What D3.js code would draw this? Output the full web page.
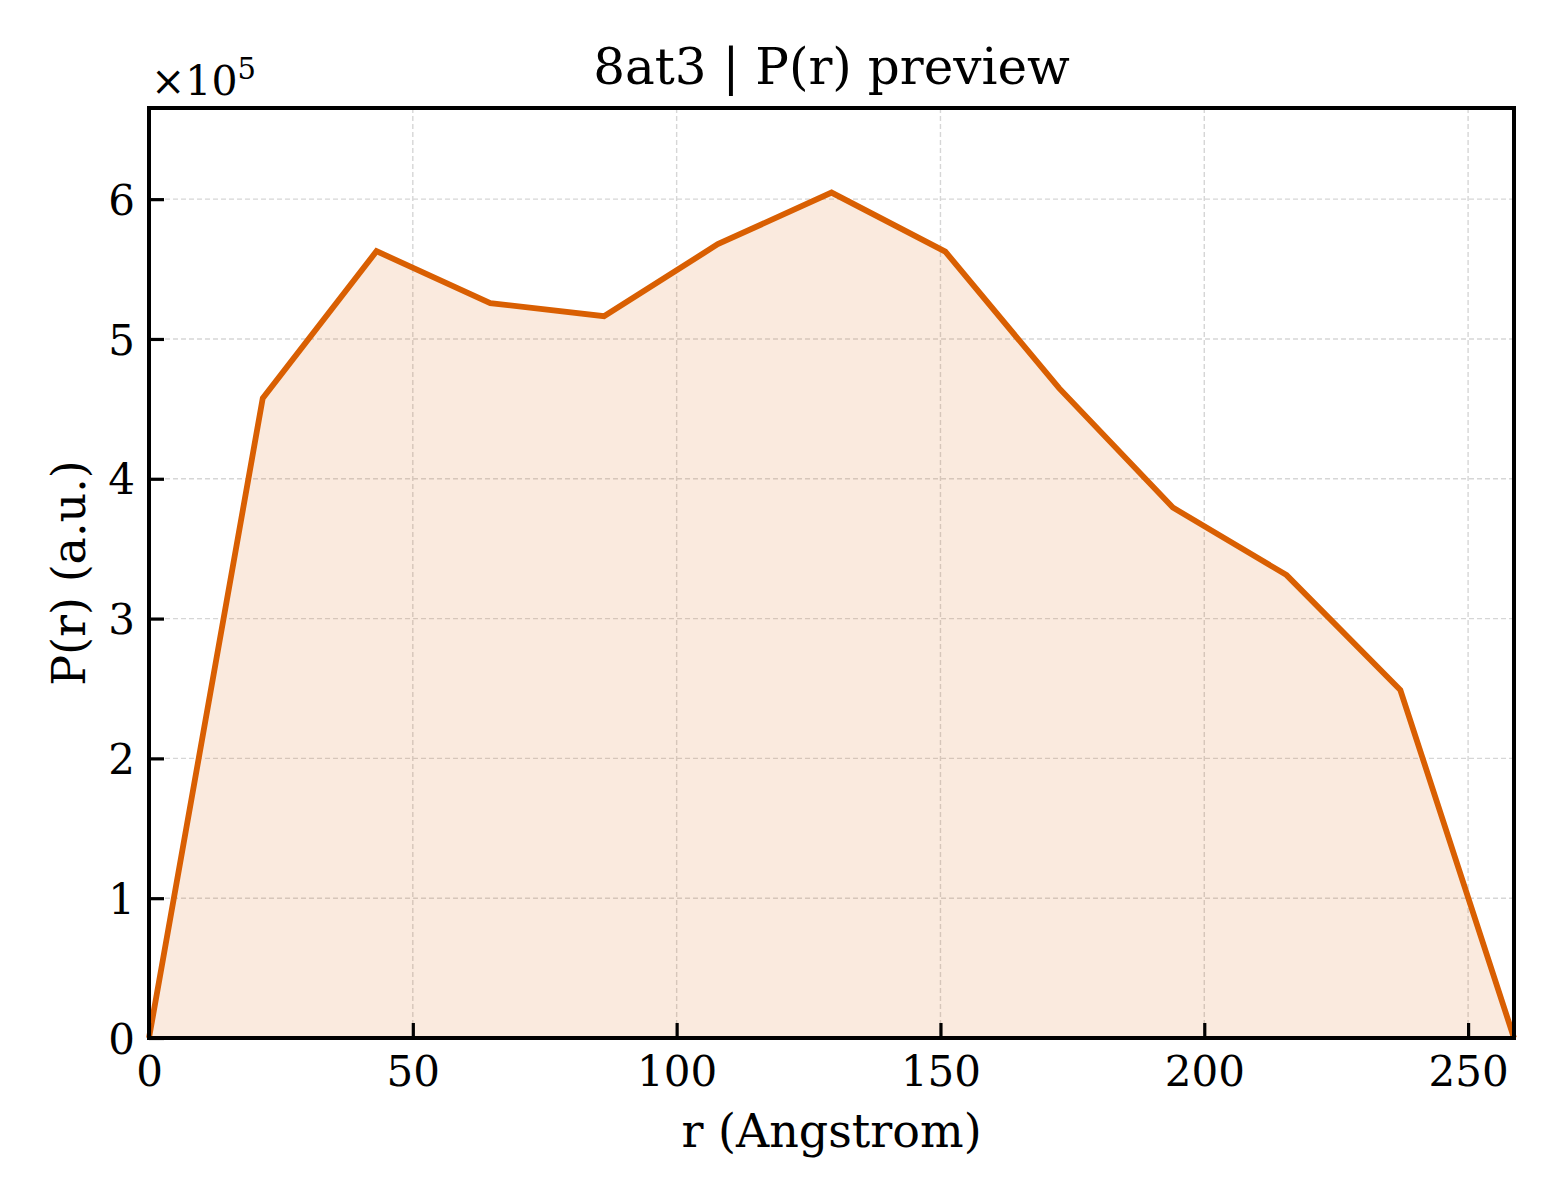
<!DOCTYPE html>
<meta charset="utf-8">
<html>
<head>
<script src="https://d3js.org/d3.v7.min.js"></script>
<style>
  body { margin: 0; background: #fff; }
  text { font-family: "DejaVu Serif", serif; fill: #000; }
</style>
</head>
<body>
<div id="chart"></div>
<script>

// r values (Angstrom) and P(r) in units of 1e5
var rVals = [0, 21.56, 43.12, 64.68, 86.24, 107.8, 129.36, 150.92, 172.48, 194.04, 215.6, 237.16, 258.7];
var pVals = [0, 4.577, 5.628, 5.256, 5.163, 5.678, 6.047, 5.625, 4.648, 3.794, 3.311, 2.489, 0];
var xTicks = [0, 50, 100, 150, 200, 250];
var yTicks = [0, 1, 2, 3, 4, 5, 6];

var W = 1560, H = 1200;
var margin = {top: 108, right: 46, bottom: 162, left: 149},
    width = W - margin.left - margin.right,
    height = H - margin.top - margin.bottom;

var color = "#d95f02";

var svg = d3.select("#chart")
  .append("svg")
    .attr("width", W)
    .attr("height", H);

var g = svg.append("g")
    .attr("transform", "translate(" + margin.left + "," + margin.top + ")");

var x = d3.scaleLinear()
  .domain([0, 258.7])
  .range([0, width]);

var y = d3.scaleLinear()
  .domain([0, 6.652])
  .range([height, 0]);

var data = rVals.map(function(r, i) { return {r: r, p: pVals[i]}; });

// grid
g.append("g").selectAll("line").data(xTicks).enter().append("line")
  .attr("x1", function(d) { return x(d); }).attr("x2", function(d) { return x(d); })
  .attr("y1", 0).attr("y2", height)
  .attr("stroke", "#d6d6d6").attr("stroke-width", 1.4).attr("stroke-dasharray", "5,3");
g.append("g").selectAll("line").data(yTicks).enter().append("line")
  .attr("y1", function(d) { return y(d); }).attr("y2", function(d) { return y(d); })
  .attr("x1", 0).attr("x2", width)
  .attr("stroke", "#d6d6d6").attr("stroke-width", 1.4).attr("stroke-dasharray", "5,3");

// filled area
g.append("path")
  .datum(data)
  .attr("fill", color)
  .attr("fill-opacity", 0.13)
  .attr("d", d3.area()
    .x(function(d) { return x(d.r); })
    .y0(y(0))
    .y1(function(d) { return y(d.p); }));

// line
g.append("path")
  .datum(data)
  .attr("fill", "none")
  .attr("stroke", color)
  .attr("stroke-width", 5.8)
  .attr("stroke-linejoin", "miter")
  .attr("d", d3.line()
    .x(function(d) { return x(d.r); })
    .y(function(d) { return y(d.p); }));

// axes with inward ticks
var xAxis = g.append("g")
  .attr("transform", "translate(0," + height + ")")
  .call(d3.axisBottom(x).tickValues(xTicks).tickSizeInner(-15).tickSizeOuter(0)
    .tickFormat(d3.format("d")));
var yAxis = g.append("g")
  .call(d3.axisLeft(y).tickValues(yTicks).tickSizeInner(-15).tickSizeOuter(0)
    .tickFormat(d3.format("d")));

[xAxis, yAxis].forEach(function(a) {
  a.select(".domain").remove();
  a.selectAll(".tick line").attr("stroke", "#000").attr("stroke-width", 3.2);
  a.selectAll(".tick text").style("font-family", "DejaVu Serif").style("font-size", "42px").attr("fill", "#000");
});
xAxis.selectAll(".tick text").attr("dy", "0.71em").attr("y", 18);
yAxis.selectAll(".tick text").attr("x", -14).attr("dy", "0.36em");

// frame
g.append("rect")
  .attr("x", 0).attr("y", 0)
  .attr("width", width).attr("height", height)
  .attr("fill", "none").attr("stroke", "#000").attr("stroke-width", 4);

// title and labels
svg.append("text")
  .attr("x", margin.left + width / 2).attr("y", 84)
  .attr("text-anchor", "middle")
  .style("font-size", "50px")
  .text("8at3 | P(r) preview");

svg.append("text")
  .attr("x", margin.left + width / 2).attr("y", 1147)
  .attr("text-anchor", "middle")
  .style("font-size", "46px")
  .text("r (Angstrom)");

svg.append("text")
  .attr("transform", "translate(85," + (margin.top + height / 2) + ") rotate(-90)")
  .attr("text-anchor", "middle")
  .style("font-size", "46px")
  .text("P(r) (a.u.)");

var mult = svg.append("text")
  .attr("x", 151).attr("y", 95)
  .style("font-size", "41px");
mult.append("tspan").text("\u00d710");
mult.append("tspan").attr("dy", -16).style("font-size", "29px").text("5");

</script>
</body>
</html>
